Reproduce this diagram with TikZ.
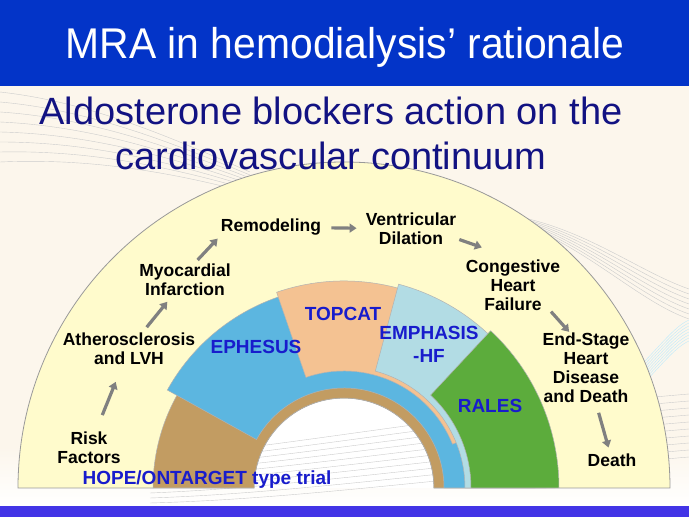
\documentclass[tikz,border=0pt]{standalone}
\usepackage{fontspec}
\setmainfont{Liberation Sans}
\usetikzlibrary{arrows.meta}
\definecolor{barblue}{RGB}{3,52,200}
\definecolor{footblue}{RGB}{66,52,230}
\definecolor{cream}{RGB}{252,246,236}
\definecolor{paleyellow}{RGB}{255,251,204}
\definecolor{navy}{RGB}{18,18,130}
\definecolor{trialblue}{RGB}{24,28,204}
\definecolor{hopebrown}{RGB}{194,156,98}
\definecolor{ephblue}{RGB}{92,182,224}
\definecolor{toppeach}{RGB}{244,194,146}
\definecolor{emphblue}{RGB}{178,220,228}
\definecolor{ralesgreen}{RGB}{92,172,60}

\begin{document}
\begin{tikzpicture}[x=1pt, y=1pt,
  every node/.style={inner sep=1pt, align=center},
  stage/.style={font=\fontsize{17.5}{19}\selectfont\bfseries, text=black},
  trial/.style={font=\fontsize{19}{23}\selectfont\bfseries, text=trialblue},
  flow/.style={draw=black!50, line width=3.2pt, -{Triangle[length=7pt, width=9pt]}},
  swirl/.style={draw=black!20, line width=0.4pt}]
  \useasboundingbox (0,0) rectangle (689,517);

  % background
  \fill[cream] (0,0) rectangle (689,517);
  \shade[top color=cream, bottom color=white] (0,11) rectangle (689,70);
  \fill[white] (254,29) arc[start angle=180, end angle=0, radius=90] -- cycle;

  % faint swirl lines
  \foreach \i in {0,...,7} {
    \draw[swirl] (0,{425-10*\i}) .. controls (90,{415-8*\i}) and (170,{380-5*\i}) .. (250,{345-3*\i});
  }
  \foreach \i in {0,...,6} {
    \draw[swirl] (520,{300-\i}) .. controls (590,{285-3*\i}) and (640,{245-5*\i}) .. (689,{228-5*\i});
  }
  \foreach \i in {0,...,7} {
    \draw[swirl, draw=cyan!25] (640,{130+3*\i}) .. controls (660,{150+3*\i}) and (675,{170+3*\i}) .. (689,{176+3*\i});
  }
  \foreach \i in {0,...,9} {
    \draw[swirl] (150,{14+5*\i}) .. controls (300,{18+6*\i}) and (450,{40+7*\i}) .. (689,{60+7*\i});
  }

  % continuum half ring and trial sectors
  \begin{scope}[shift={(344,29)}]
    \filldraw[fill=paleyellow, draw=black!40, line width=0.8pt]
      (180:90) -- (180:326) arc[start angle=180, end angle=0, radius=326]
      -- (0:90) arc[start angle=0, end angle=180, radius=90] -- cycle;
    \foreach \col/\ri/\ro/\a/\b in {hopebrown/90/191/0/180, ephblue/100/202/0/151,
        toppeach/117/207/22/109, emphblue/121/211/0/75, ralesgreen/127/215/0/47} {
      \filldraw[fill=\col, draw=black!30, line width=0.5pt]
        (\a:\ri) -- (\a:\ro) arc[start angle=\a, end angle=\b, radius=\ro]
        -- (\b:\ri) arc[start angle=\b, end angle=\a, radius=\ri] -- cycle;
    }
  \end{scope}

  % title bars
  \fill[barblue] (0,431) rectangle (689,517);
  \fill[footblue] (0,0) rectangle (689,11);
  \node[font=\fontsize{43}{50}\selectfont, text=white, anchor=base] (title) at (345,458)
    {\scalebox{0.95}[1]{MRA in hemodialysis’ rationale}};
  \node[font=\fontsize{38}{45}\selectfont, text=navy, anchor=base] (subtitle) at (331,347)
    {Aldosterone blockers action on the\\cardiovascular continuum};

  % stages of the continuum
  \node[stage] (risk) at (89,69) {Risk\\Factors};
  \node[stage] (ather) at (129,168) {Atherosclerosis\\and LVH};
  \node[stage] (myo) at (185,237) {Myocardial\\Infarction};
  \node[stage] (remod) at (271,290) {Remodeling};
  \node[stage] (vent) at (411,288) {Ventricular\\Dilation};
  \node[stage] (chf) at (513,232) {Congestive\\Heart\\Failure};
  \node[stage] (esrd) at (586,149) {End-Stage\\Heart\\Disease\\and Death};
  \node[stage] (death) at (612,57) {Death};

  % trials
  \node[trial] (ephesus) at (256,170) {EPHESUS};
  \node[trial] (topcat) at (343,203) {TOPCAT};
  \node[trial] (emphasis) at (429,173) {EMPHASIS\\-HF};
  \node[trial] (rales) at (490,111) {RALES};
  \node[trial, anchor=base] (hope) at (207,32) {HOPE/ONTARGET type trial};

  % arrows
  \draw[flow, shorten <=17pt, shorten >=17pt] (risk) -- (ather);
  \draw[flow, shorten <=6pt, shorten >=6pt] (ather) -- (myo);
  \draw[flow, shorten <=4pt, shorten >=3pt] (myo.60) -- (remod.south west);
  \draw[flow, shorten <=9pt, shorten >=8pt] (remod) -- (vent);
  \draw[flow, shorten <=2pt, shorten >=33pt] (vent.-12) -- (chf.north);
  \draw[flow] (chf.-35) -- (esrd.115);
  \draw[flow, shorten <=9pt, shorten >=5pt] (esrd) -- (death);
\end{tikzpicture}
\end{document}
